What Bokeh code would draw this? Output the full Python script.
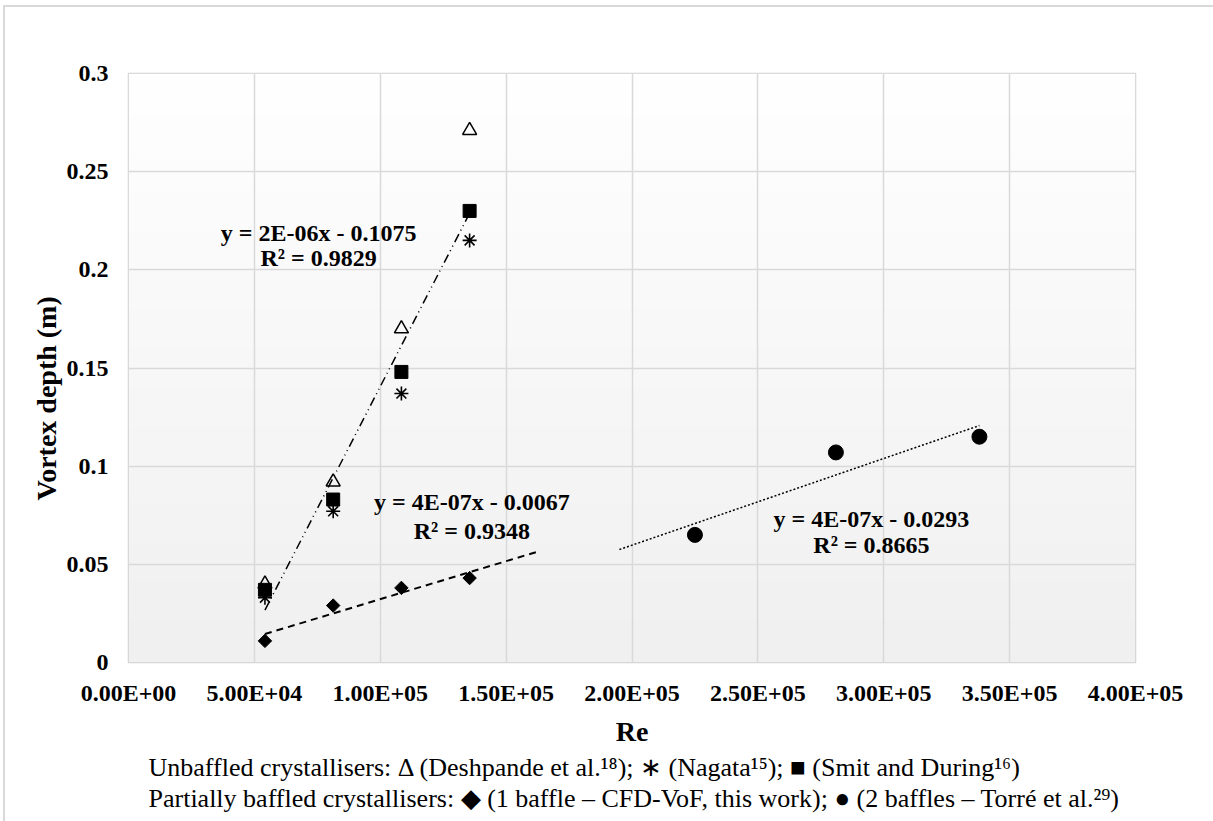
import numpy as np
from bokeh.plotting import figure
from bokeh.models import Range1d, FixedTicker, Label, Title
from bokeh.embed import file_html
from bokeh.resources import INLINE

# ---------------- data ----------------
re_unbaffled = [54200, 81300, 108400, 135500]
deshpande = [0.040, 0.092, 0.170, 0.271]
nagata = [0.033, 0.077, 0.137, 0.215]
smit_during = [0.037, 0.083, 0.148, 0.230]
cfd_vof = [0.011, 0.029, 0.038, 0.043]
re_torre = [225000, 281000, 338000]
torre = [0.065, 0.107, 0.115]

x_ticks = [0, 50000, 100000, 150000, 200000, 250000, 300000, 350000, 400000]
x_tick_labels = ["0.00E+00", "5.00E+04", "1.00E+05", "1.50E+05", "2.00E+05",
                 "2.50E+05", "3.00E+05", "3.50E+05", "4.00E+05"]
y_ticks = [0, 0.05, 0.1, 0.15, 0.2, 0.25, 0.3]
y_tick_labels = ["0", "0.05", "0.1", "0.15", "0.2", "0.25", "0.3"]

eq_unbaffled = ["y = 2E-06x - 0.1075", "R² = 0.9829"]
eq_one_baffle = ["y = 4E-07x - 0.0067", "R² = 0.9348"]
eq_two_baffles = ["y = 4E-07x - 0.0293", "R² = 0.8665"]

legend_lines = [
    "Unbaffled crystallisers: Δ (Deshpande et al.¹⁸); ∗ (Nagata¹⁵); ■ (Smit and During¹⁶)",
    "Partially baffled crystallisers: ◆ (1 baffle – CFD-VoF, this work); ● (2 baffles – Torré et al.²⁹)",
]

forecast_forward_one_baffle = 28000
forecast_backward_two_baffles = 30000

FONT = "Liberation Serif"

# ---------------- figure ----------------
p = figure(width=1213, height=821, output_backend="svg", toolbar_location=None,
           x_range=Range1d(0, 400000), y_range=Range1d(0, 0.3),
           min_border_left=128, min_border_right=78, min_border_top=73,
           min_border_bottom=159)
p.background_fill_color = None
p.border_fill_color = None
p.outline_line_color = "#cfcfcf"
p.outline_line_width = 1.5
p.styles = {
    "background": "linear-gradient(#d9d9d9, #d9d9d9) 3px 5px / 2px calc(100% - 5px) no-repeat, "
                  "linear-gradient(#d9d9d9, #d9d9d9) 3px 5px / calc(100% - 3px) 2px no-repeat, white"
}

# gradient background of the plot area
n = 200
t = np.linspace(0, 1, n)
g = (240 + 15 * t).astype(np.uint32)
rgba = (255 << 24) | (g << 16) | (g << 8) | g
img = rgba.reshape(n, 1)
p.image_rgba(image=[img], x=0, y=0, dw=400000, dh=0.3, level="image")

# axes
for ax in (p.xaxis[0], p.yaxis[0]):
    ax.axis_line_color = None
    ax.major_tick_line_color = None
    ax.minor_tick_line_color = None
    ax.major_tick_out = 0
    ax.major_tick_in = 0
    ax.minor_tick_out = 0
    ax.minor_tick_in = 0
    ax.major_label_text_font = FONT
    ax.major_label_text_font_style = "bold"
    ax.major_label_text_font_size = "24px"
    ax.major_label_text_color = "black"
    ax.axis_label_text_font = FONT
    ax.axis_label_text_font_style = "bold"
    ax.axis_label_text_font_size = "28px"
    ax.axis_label_text_color = "black"

p.xaxis.ticker = FixedTicker(ticks=x_ticks)
p.xaxis.major_label_overrides = {t_: l for t_, l in zip(x_ticks, x_tick_labels)}
p.yaxis.ticker = FixedTicker(ticks=y_ticks)
p.yaxis.major_label_overrides = {t_: l for t_, l in zip(y_ticks, y_tick_labels)}
p.xaxis.axis_label = "Re"
p.xaxis.major_label_standoff = 17
p.xaxis.axis_label_standoff = 7
p.yaxis.major_label_standoff = 20

# y-axis title (placed as a left title so it can sit slightly below centre)
p.add_layout(Title(text="Vortex depth (m)", align="left", offset=162, standoff=3,
                   text_font=FONT, text_font_style="bold", text_font_size="28px",
                   text_color="black"), "left")

p.grid.grid_line_color = "#d9d9d9"
p.grid.grid_line_width = 1.5
p.grid.level = "underlay"

# ---------------- trendlines ----------------
xu = np.array(re_unbaffled * 3, dtype=float)
yu = np.array(deshpande + nagata + smit_during, dtype=float)
m1, b1 = np.polyfit(xu, yu, 1)
x1 = np.array([min(re_unbaffled), max(re_unbaffled)], dtype=float)
p.line(x1, m1 * x1 + b1, line_color="black", line_width=1.5, line_dash="9 4 1 4 1 4")

m2, b2 = np.polyfit(re_unbaffled, cfd_vof, 1)
x2 = np.array([min(re_unbaffled), max(re_unbaffled) + forecast_forward_one_baffle], dtype=float)
p.line(x2, m2 * x2 + b2, line_color="black", line_width=2, line_dash="7 5")

m3, b3 = np.polyfit(re_torre, torre, 1)
x3 = np.array([min(re_torre) - forecast_backward_two_baffles, max(re_torre)], dtype=float)
p.line(x3, m3 * x3 + b3, line_color="black", line_width=1.5, line_dash="2 2")

# ---------------- markers ----------------
p.scatter(re_unbaffled, deshpande, marker="triangle", size=14, fill_color=None,
          line_color="black", line_width=1.5)
p.scatter(re_unbaffled, smit_during, marker="square", size=13, fill_color="black",
          line_color="black")
p.scatter(re_unbaffled, nagata, marker="asterisk", size=14, line_color="black",
          line_width=1.6)
p.scatter(re_unbaffled, cfd_vof, marker="square", angle=np.pi / 4, size=9.5,
          fill_color="black", line_color="black")
p.scatter(re_torre, torre, marker="circle", size=15, fill_color="black",
          line_color="black")

# ---------------- equation labels ----------------
def eq_labels(lines, x, y1, y2):
    for txt, yy in zip(lines, (y1, y2)):
        p.add_layout(Label(x=x, y=yy, text=txt, text_font=FONT, text_font_style="bold",
                           text_font_size="24px", text_align="center",
                           text_baseline="middle", text_color="black"))

eq_labels(eq_unbaffled, 75500, 0.2190, 0.2058)
eq_labels(eq_one_baffle, 136400, 0.0816, 0.0672)
eq_labels(eq_two_baffles, 295100, 0.0733, 0.0596)

# ---------------- caption / legend text (below the chart) ----------------
for txt, so in zip(legend_lines, (2, -2)):
    p.add_layout(Title(text=txt, align="left", offset=20, standoff=so,
                       text_font=FONT, text_font_style="normal", text_font_size="26px",
                       text_color="black"), "below")

open("out.html", "w").write(file_html(p, INLINE))
